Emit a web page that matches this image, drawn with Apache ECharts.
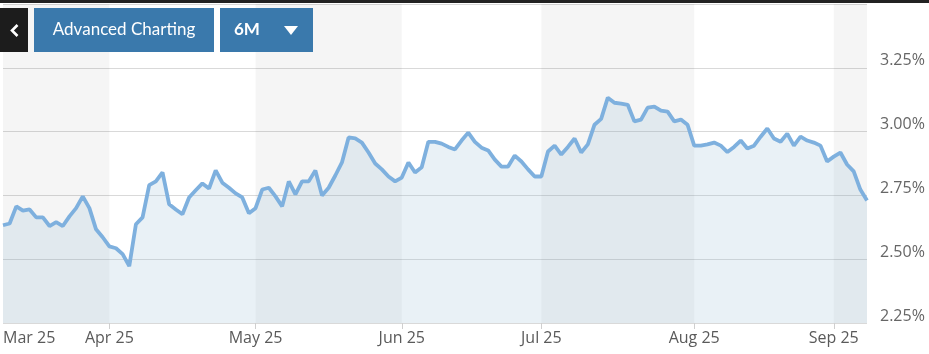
<!DOCTYPE html>
<html>
<head>
<meta charset="utf-8">
<script src="https://cdn.jsdelivr.net/npm/echarts@6/dist/echarts.min.js"></script>
<style>
  html, body { margin: 0; padding: 0; background: #fff; }
  #chart { width: 929px; height: 354px; }
</style>
</head>
<body>
<div id="chart"></div>
<script>
// first trading day shown, one point per weekday after it
var firstDay = '2025-03-10';

// yield values (%)
var yields = [
  2.633, 2.640, 2.707, 2.690, 2.695, 2.664, 2.664, 2.630, 2.645, 2.630,
  2.668, 2.700, 2.746, 2.700, 2.617, 2.586, 2.550, 2.543, 2.520, 2.473,
  2.637, 2.664, 2.790, 2.805, 2.840, 2.715, 2.695, 2.676,
  2.742, 2.770, 2.797, 2.777, 2.848, 2.800, 2.780, 2.758, 2.742, 2.680,
  2.700, 2.773, 2.780, 2.746, 2.707, 2.805, 2.754, 2.805, 2.805, 2.848,
  2.750, 2.780, 2.828, 2.879, 2.977,
  2.973, 2.957, 2.918, 2.875, 2.852, 2.824, 2.805, 2.820, 2.879, 2.840,
  2.860, 2.960, 2.960, 2.953, 2.940, 2.930, 2.965, 2.996, 2.960, 2.937,
  2.926, 2.890, 2.863, 2.863, 2.906,
  2.883, 2.852, 2.824, 2.824, 2.922, 2.945, 2.910, 2.940, 2.973, 2.918,
  2.950, 3.027, 3.050, 3.133, 3.113, 3.110, 3.105, 3.040, 3.047, 3.094,
  3.098, 3.082, 3.078, 3.040, 3.047, 3.027,
  2.945, 2.945, 2.950, 2.957, 2.945, 2.920, 2.940, 2.965, 2.934, 2.945,
  2.980, 3.012, 2.973, 2.960, 2.992, 2.945, 2.980, 2.965, 2.957, 2.945,
  2.883, 2.902, 2.918, 2.871, 2.844, 2.773, 2.730
];

var monthNames = ['Jan', 'Feb', 'Mar', 'Apr', 'May', 'Jun', 'Jul', 'Aug', 'Sep', 'Oct', 'Nov', 'Dec'];

var yMin = 2.25;
var yMax = 3.5;
var yStep = 0.25;

// weekday calendar for the category axis
function weekdays(start, n) {
  var out = [];
  var d = new Date(start + 'T00:00:00Z');
  while (out.length < n) {
    var wd = d.getUTCDay();
    if (wd !== 0 && wd !== 6) out.push(d.toISOString().slice(0, 10));
    d.setUTCDate(d.getUTCDate() + 1);
  }
  return out;
}

var dates = weekdays(firstDay, yields.length);

function monthOf(s) { return s.slice(0, 7); }
function isMonthStart(i) { return i > 0 && monthOf(dates[i]) !== monthOf(dates[i - 1]); }
function monthLabel(s) { return monthNames[+s.slice(5, 7) - 1] + ' ' + s.slice(2, 4); }

// alternating month bands
var starts = [0];
dates.forEach(function (d, i) { if (isMonthStart(i)) starts.push(i); });
var bands = [];
starts.forEach(function (s, k) {
  if (k % 2 === 0) {
    var e = k + 1 < starts.length ? starts[k + 1] : dates.length - 1;
    bands.push([{ xAxis: dates[s] }, { xAxis: dates[e] }]);
  }
});

var chart = echarts.init(document.getElementById('chart'));

var option = {
  animation: false,
  backgroundColor: '#fff',
  grid: { left: 0, right: 62, top: 4, bottom: 31 },
  xAxis: {
    type: 'category',
    data: dates,
    boundaryGap: false,
    axisLine: { show: false },
    axisTick: {
      show: true,
      length: 6,
      interval: function (i) { return isMonthStart(i); },
      lineStyle: { color: '#cfcfcf' }
    },
    axisLabel: {
      interval: function (i) { return i === 0 || isMonthStart(i); },
      formatter: function (v) { return monthLabel(v); },
      alignMinLabel: 'left',
      hideOverlap: false,
      margin: 7,
      color: '#5a5a5a',
      fontFamily: 'Open Sans',
      fontSize: 16
    },
    splitLine: { show: false }
  },
  yAxis: {
    type: 'value',
    position: 'right',
    min: yMin,
    max: yMax,
    interval: yStep,
    axisLine: { show: false },
    axisTick: { show: false },
    splitLine: { lineStyle: { color: '#d9d9d9', width: 1 } },
    axisLabel: {
      showMaxLabel: false,
      formatter: function (v) { return v.toFixed(2) + '%'; },
      align: 'left',
      verticalAlign: 'bottom',
      lineHeight: 14,
      margin: 13,
      color: '#666',
      fontFamily: 'Open Sans',
      fontSize: 16
    }
  },
  series: [
    {
      type: 'line',
      data: yields,
      z: 1,
      silent: true,
      symbol: 'none',
      lineStyle: { opacity: 0 },
      markArea: {
        silent: true,
        itemStyle: { color: 'rgba(0,0,0,0.04)' },
        data: bands
      }
    },
    {
      type: 'line',
      data: yields,
      z: 3,
      symbol: 'none',
      lineStyle: { color: '#7eb0de', width: 3.8 },
      areaStyle: { color: 'rgba(150,187,214,0.3)' }
    }
  ],
  graphic: [
    { type: 'rect', left: 0, top: 0, z: 100, shape: { width: 929, height: 3 }, style: { fill: '#222' } },
    { type: 'rect', left: 0, top: 8, z: 100, shape: { width: 28, height: 44 }, style: { fill: '#1c1c1c' } },
    { type: 'polyline', z: 101, shape: { points: [[17.5, 25], [12, 30.5], [17.5, 36]] }, style: { stroke: '#fff', lineWidth: 2.6, fill: null } },
    { type: 'rect', left: 34, top: 8, z: 100, shape: { width: 180, height: 44 }, style: { fill: '#3a79ac' } },
    { type: 'text', x: 124, y: 30, z: 101, style: { text: 'Advanced Charting', fill: '#fff', font: '17px Lato', align: 'center', verticalAlign: 'middle' } },
    { type: 'rect', left: 220, top: 8, z: 100, shape: { width: 93, height: 44 }, style: { fill: '#3a79ac' } },
    { type: 'text', x: 234, y: 30, z: 101, style: { text: '6M', fill: '#fff', font: 'bold 17px Lato', align: 'left', verticalAlign: 'middle' } },
    { type: 'polygon', z: 101, shape: { points: [[284, 26], [298, 26], [291, 35]] }, style: { fill: '#fff' } }
  ]
};

chart.setOption(option);
</script>
</body>
</html>
